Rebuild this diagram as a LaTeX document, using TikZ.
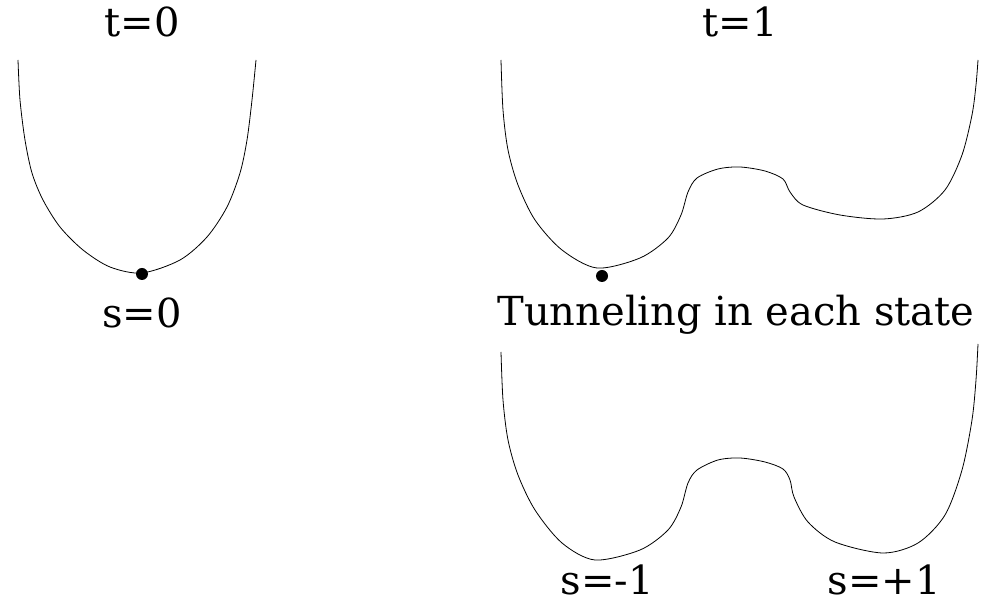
\documentclass[tikz,border=0pt]{standalone}
\usepackage{fontspec}
\setmainfont{DejaVu Serif}
\begin{document}
\begin{tikzpicture}[x=0.75pt, y=-0.75pt,
    lbl/.style={font=\fontsize{30}{34}\selectfont, inner sep=0pt},
    well/.style={line width=0.6pt, black},
    ball/.style={circle, fill=black, inner sep=0pt, minimum size=9pt}]
    \useasboundingbox (0,0) rectangle (986,605);

    % Labels
    \node[lbl] (t0) at (142,22) {t=0};
    \node[lbl] (t1) at (740,22) {t=1};
    \node[lbl] (s0) at (142,313) {s=0};
    \node[lbl] (tunnel) at (736,315) {Tunneling in each state};
    \node[lbl] (sm1) at (607,580) {s=-1};
    \node[lbl] (sp1) at (884,580) {s=+1};

    % Single well at t=0
    \draw[well] plot[smooth] coordinates {
        (18,60) (20,100) (25,140) (32,173) (43,200) (60,227) (83,250)
        (110,267) (142,273) (180,260) (207,237) (227,207) (240,173)
        (247,140) (252,100) (256,60)
    };
    \node[ball] (b0) at (142,274) {};

    % Tilted double well at t=1
    \draw[well] plot[smooth, tension=0.5] coordinates {
        (501,60) (503,110) (508,150) (518,185) (535,220) (562,250) (597,268)
        (640,258) (668,238) (681,215) (688,192) (697,178) (718,169) (740,167)
        (765,171) (783,179) (790,192) (803,205) (840,215) (883,219)
        (918,212) (945,190) (962,155) (972,115) (976,85) (978,60)
    };
    \node[ball] (b1) at (602,276) {};

    % Symmetric double well
    \draw[well] plot[smooth, tension=0.5] coordinates {
        (501,352) (503,400) (508,440) (518,475) (535,510) (562,543) (595,560)
        (640,550) (668,530) (681,507) (688,483) (697,470) (718,460) (740,458)
        (765,462) (783,469) (790,480) (794,497) (808,522) (835,542) (883,553)
        (918,543) (945,515) (962,470) (972,420) (976,380) (978,344)
    };
\end{tikzpicture}
\end{document}
